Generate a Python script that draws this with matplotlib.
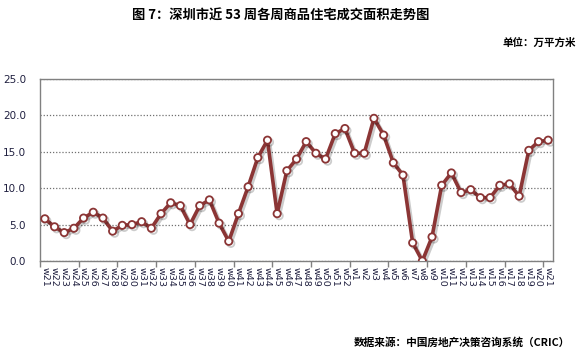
import matplotlib
matplotlib.use("Agg")
import matplotlib.pyplot as plt
import matplotlib.patheffects as pe
import numpy as np

plt.rcParams['font.family'] = ['Noto Sans CJK SC', 'DejaVu Sans']

weeks = [f"w{i}" for i in range(21, 53)] + [f"w{i}" for i in range(1, 22)]
area = [5.8, 4.7, 3.9, 4.5, 5.9, 6.7, 5.9, 4.1, 4.9, 5.0, 5.4, 4.5, 6.5, 8.0,
        7.6, 5.0, 7.6, 8.4, 5.2, 2.7, 6.5, 10.2, 14.2, 16.6, 6.5, 12.4, 14.0,
        16.4, 14.8, 14.0, 17.5, 18.2, 14.8, 14.8, 19.6, 17.3, 13.5, 11.8, 2.5,
        0.0, 3.3, 10.4, 12.1, 9.4, 9.8, 8.7, 8.7, 10.4, 10.6, 8.9, 15.2, 16.4,
        16.6]
yticks = [0, 5, 10, 15, 20, 25]

LINE = "#8b3535"
AXIS = "#808080"

fig = plt.figure(figsize=(5.83, 3.54), dpi=100)
ax = fig.add_axes([40 / 583, 1 - 261 / 354, 513 / 583, 182 / 354])

x = np.arange(len(area))
ax.plot(x, area, color=LINE, lw=2.6, marker="o", ms=5.2, mfc="white",
        mec=LINE, mew=1.3, zorder=3,
        path_effects=[pe.SimpleLineShadow(offset=(1.5, -1.5), alpha=0.2),
                      pe.Normal()])

ax.set_xlim(-0.5, len(area) - 0.5)
ax.set_ylim(0, 25)
ax.set_yticks(yticks)
ax.set_yticklabels([f"{v:.1f}" for v in yticks], fontsize=7.5,
                   family="DejaVu Sans", color="#202040")
ax.yaxis.grid(True, ls=(0, (1, 1.5)), color="#707070", lw=0.9)
ax.set_axisbelow(True)

ax.set_xticks(x)
ax.set_xticklabels(weeks, rotation=-90, fontsize=6.8, family="DejaVu Sans",
                   color="#202040")
ax.set_xticks(np.arange(-0.5, len(area), 4), minor=True)
ax.tick_params(axis="x", which="major", length=0, pad=4)
ax.tick_params(axis="x", which="minor", length=4, color=AXIS, width=1)
ax.tick_params(axis="y", length=0, pad=10)
for s in ax.spines.values():
    s.set_color(AXIS)
    s.set_linewidth(1)

fig.text(281 / 583, 1 - 16 / 354, "图 7：深圳市近 53 周各周商品住宅成交面积走势图",
         ha="center", va="center", fontsize=9.5, fontweight="bold")
fig.text(576 / 583, 1 - 43 / 354, "单位：万平方米", ha="right", va="center",
         fontsize=7.6, fontweight="bold")
fig.text(570 / 583, 1 - 342 / 354, "数据来源：中国房地产决策咨询系统（CRIC）",
         ha="right", va="center", fontsize=7.7, fontweight="bold")

fig.savefig("out.png", dpi=100)
